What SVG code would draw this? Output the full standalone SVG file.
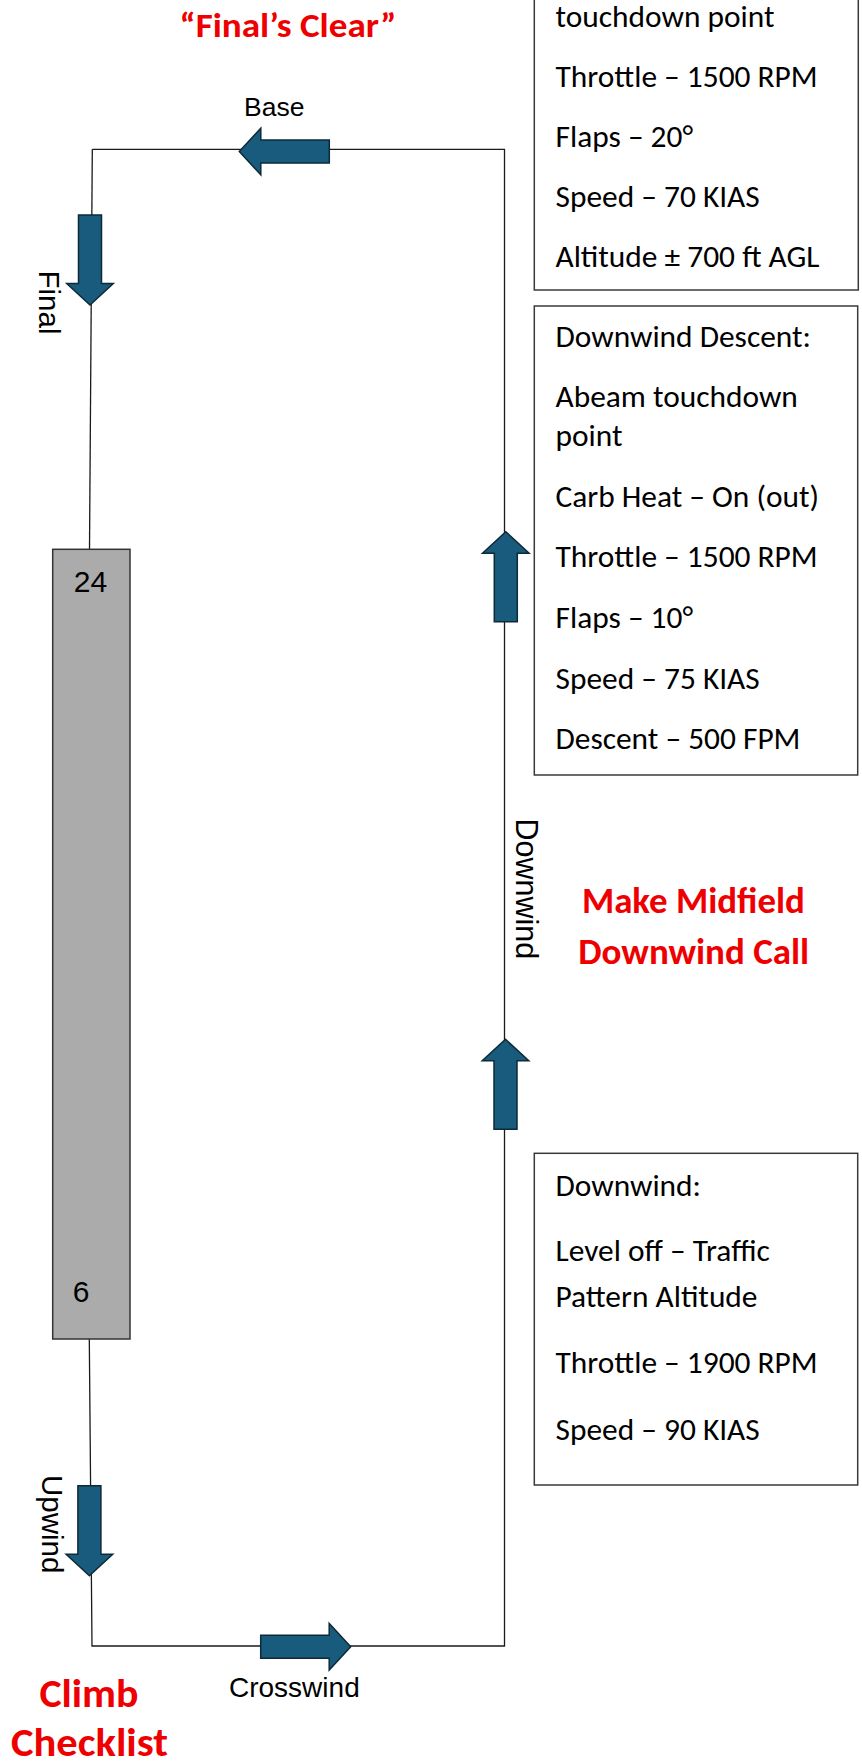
<svg xmlns="http://www.w3.org/2000/svg" xmlns:xlink="http://www.w3.org/1999/xlink" width="862" height="1762" viewBox="0 0 862 1762">
<style>
.box{fill:#fff;stroke:#3a3a3a;stroke-width:1.5}
.bt{font-family:Carlito,Calibri,"Liberation Sans",Arial,sans-serif;font-size:31.4px;fill:#000}
.lbl{font-family:"Liberation Sans",Arial,sans-serif;fill:#000}
.red{font-family:Carlito,Calibri,"Liberation Sans",Arial,sans-serif;font-weight:bold;fill:#ee0000}
.pl{fill:none;stroke:#1a1a1a;stroke-width:1.3}
.arr{fill:#195b7c;stroke:#0d2a38;stroke-width:1.5;stroke-linejoin:miter}
</style>
<defs>
<path id="arrow" class="arr" d="M -90 -11.5 H -21.5 V -23.3 L 0 0 L -21.5 23.3 V 11.5 H -90 Z"/>
</defs>
<rect width="862" height="1762" fill="#fff"/>

<g id="connectors">
<path class="pl" d="M 92.3 149.3 H 504.5 V 1646 H 92 L 89.3 1339"/>
<path class="pl" d="M 92.3 149.3 L 89.5 549.3"/>
<use xlink:href="#arrow" href="#arrow" transform="translate(239.3,151.5) rotate(180)"/>
<use xlink:href="#arrow" href="#arrow" transform="translate(90,305) rotate(90)"/>
<use xlink:href="#arrow" href="#arrow" transform="translate(505.8,531.7) rotate(-90)"/>
<use xlink:href="#arrow" href="#arrow" transform="translate(505.5,1039.3) rotate(-90)"/>
<use xlink:href="#arrow" href="#arrow" transform="translate(89.4,1575.7) rotate(90)"/>
<use xlink:href="#arrow" href="#arrow" transform="translate(350.7,1646.8)"/>
</g>

<g id="runway">
<rect x="52.7" y="549.3" width="77.3" height="789.7" fill="#ababab" stroke="#333" stroke-width="1.5"/>
<text class="lbl" x="90.4" y="591.7" font-size="30" text-anchor="middle">24</text>
<text class="lbl" x="72.7" y="1301.7" font-size="30">6</text>
</g>

<g id="label-base"><text class="lbl" x="244" y="116" font-size="26.5">Base</text></g>
<g id="label-final"><text class="lbl" font-size="29.5" transform="translate(38.5,270.5) rotate(90)">Final</text></g>
<g id="label-downwind"><text class="lbl" font-size="30.5" transform="translate(516,818.5) rotate(90)">Downwind</text></g>
<g id="label-upwind"><text class="lbl" font-size="29.5" transform="translate(41.5,1475) rotate(90)">Upwind</text></g>
<g id="label-crosswind"><text class="lbl" x="229" y="1696.7" font-size="28">Crosswind</text></g>

<g id="note-finals-clear"><text class="red" x="288" y="36.7" font-size="35" text-anchor="middle" textLength="217" lengthAdjust="spacingAndGlyphs">“Final’s Clear”</text></g>
<g id="note-midfield">
<text class="red" x="693.4" y="912.7" font-size="36" text-anchor="middle" textLength="223" lengthAdjust="spacingAndGlyphs">Make Midfield</text>
<text class="red" x="693.7" y="964.3" font-size="36" text-anchor="middle" textLength="231" lengthAdjust="spacingAndGlyphs">Downwind Call</text>
</g>
<g id="note-climb">
<text class="red" x="89" y="1706.7" font-size="41" text-anchor="middle" textLength="99" lengthAdjust="spacingAndGlyphs">Climb</text>
<text class="red" x="89.5" y="1756" font-size="41" text-anchor="middle" textLength="157" lengthAdjust="spacingAndGlyphs">Checklist</text>
</g>

<g id="box-base">
<rect class="box" x="534.3" y="-10" width="324" height="300"/>
<text class="bt" x="555.5" y="27">touchdown point</text>
<text class="bt" x="555.5" y="87.3">Throttle – 1500 RPM</text>
<text class="bt" x="555.5" y="147">Flaps – 20°</text>
<text class="bt" x="555.5" y="207">Speed – 70 KIAS</text>
<text class="bt" x="555.5" y="267">Altitude ± 700 ft AGL</text>
</g>

<g id="box-downwind-descent">
<rect class="box" x="534.3" y="306" width="323.4" height="469"/>
<text class="bt" x="555.5" y="346.7">Downwind Descent:</text>
<text class="bt" x="555.5" y="407">Abeam touchdown</text>
<text class="bt" x="555.5" y="446">point</text>
<text class="bt" x="555.5" y="507">Carb Heat – On (out)</text>
<text class="bt" x="555.5" y="567">Throttle – 1500 RPM</text>
<text class="bt" x="555.5" y="628">Flaps – 10°</text>
<text class="bt" x="555.5" y="688.5">Speed – 75 KIAS</text>
<text class="bt" x="555.5" y="748.5">Descent – 500 FPM</text>
</g>

<g id="box-downwind">
<rect class="box" x="534.3" y="1153.3" width="323.4" height="331.7"/>
<text class="bt" x="555.5" y="1196">Downwind:</text>
<text class="bt" x="555.5" y="1260.5">Level off – Traffic</text>
<text class="bt" x="555.5" y="1307">Pattern Altitude</text>
<text class="bt" x="555.5" y="1372.5">Throttle – 1900 RPM</text>
<text class="bt" x="555.5" y="1440">Speed – 90 KIAS</text>
</g>
</svg>
